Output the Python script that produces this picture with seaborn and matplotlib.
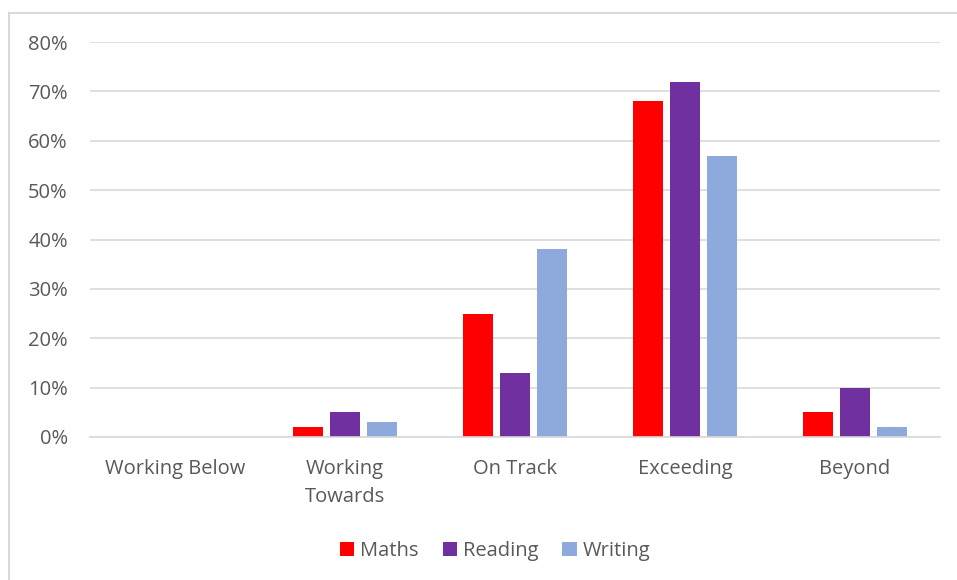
import matplotlib
matplotlib.use("Agg")
import matplotlib.pyplot as plt
import seaborn as sns
import pandas as pd
from matplotlib.lines import Line2D
from matplotlib.ticker import FuncFormatter, MultipleLocator

categories = ["Working Below", "Working\nTowards", "On Track", "Exceeding", "Beyond"]
series_names = ["Maths", "Reading", "Writing"]
maths = [0, 2, 25, 68, 5]
reading = [0, 5, 13, 72, 10]
writing = [0, 3, 38, 57, 2]
colors = ["#FF0000", "#7030A0", "#8EA9DB"]

rows = []
for name, vals in zip(series_names, [maths, reading, writing]):
    for c, v in zip(categories, vals):
        rows.append({"category": c, "series": name, "value": v})
df = pd.DataFrame(rows)

sns.set_theme(style="white")
plt.rcParams['font.family'] = ['Open Sans', 'DejaVu Sans']
txt = "#595959"
fs = 14.5

fig = plt.figure(figsize=(9.57, 5.80), dpi=100)
ax = fig.add_axes([90/957, 1-437/580, 850/957, 395/580])

sns.barplot(data=df, x="category", y="value", hue="series", order=categories,
            hue_order=series_names, palette=colors, width=0.66, gap=0.2,
            saturation=1, ax=ax, legend=True, linewidth=0)

ax.set_ylim(0, 80)
ax.set_xlim(-0.5, 4.5)
ax.yaxis.set_major_locator(MultipleLocator(10))
ax.yaxis.set_major_formatter(FuncFormatter(lambda v, p: f"{int(v)}%"))
ax.grid(axis="y", color="#D9D9D9", linewidth=1.2)
ax.set_axisbelow(True)
for s in ["top", "right", "left"]:
    ax.spines[s].set_visible(False)
ax.spines["bottom"].set_color("#D9D9D9")
ax.spines["bottom"].set_linewidth(1.2)
ax.set_xlabel("")
ax.set_ylabel("")
ax.tick_params(axis="x", length=0, pad=16, labelsize=fs, labelcolor=txt)
ax.tick_params(axis="y", length=0, pad=16, labelsize=fs, labelcolor=txt)
for lab in ax.get_xticklabels():
    lab.set_linespacing(1.55)

leg = ax.legend(loc="center", bbox_to_anchor=(495/957, 1-551/580), bbox_transform=fig.transFigure,
                ncol=3, frameon=False, fontsize=fs, handlelength=0.7, handleheight=0.7,
                handletextpad=0.3, columnspacing=1.2, labelcolor=txt)

fig.add_artist(Line2D([9/957, 9/957], [0, 1-13/580], transform=fig.transFigure, color="#D9D9D9", linewidth=1.5))
fig.add_artist(Line2D([9/957, 1], [1-13/580, 1-13/580], transform=fig.transFigure, color="#D9D9D9", linewidth=1.5))

fig.savefig("out.png", dpi=100)
